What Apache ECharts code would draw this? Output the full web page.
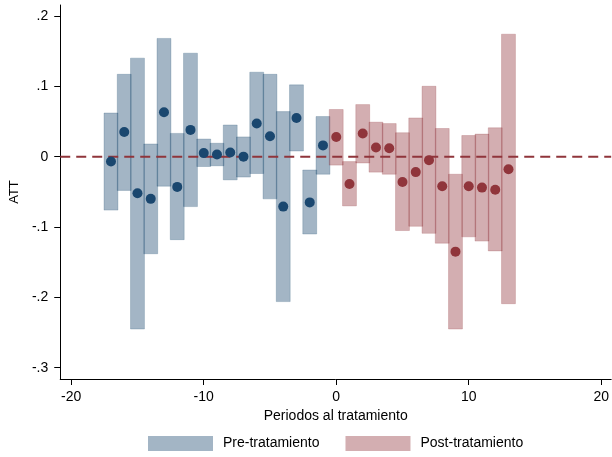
<!DOCTYPE html>
<html><head><meta charset="utf-8">
<script src="https://cdn.jsdelivr.net/npm/echarts@6/dist/echarts.min.js"></script>
<style>html,body{margin:0;padding:0;background:#fff}#c{width:612px;height:457px}</style>
</head><body><div id="c"></div>
<script>
const periodsPre = [-17,-16,-15,-14,-13,-12,-11,-10,-9,-8,-7,-6,-5,-4,-3,-2,-1];
const estPre = [-0.007,0.035,-0.052,-0.060,0.063,-0.043,0.038,0.005,0.003,0.006,0.000,0.047,0.029,-0.071,0.055,-0.065,0.016];
const loPre  = [-0.076,-0.048,-0.245,-0.138,-0.042,-0.118,-0.071,-0.014,-0.013,-0.033,-0.029,-0.024,-0.060,-0.206,0.008,-0.110,-0.025];
const hiPre  = [0.062,0.117,0.140,0.018,0.168,0.033,0.147,0.025,0.019,0.045,0.028,0.120,0.117,0.064,0.102,-0.019,0.057];

const periodsPost = [0,1,2,3,4,5,6,7,8,9,10,11,12,13];
const estPost = [0.028,-0.039,0.033,0.013,0.012,-0.036,-0.022,-0.005,-0.042,-0.135,-0.042,-0.044,-0.047,-0.018];
const loPost  = [-0.012,-0.070,-0.009,-0.022,-0.025,-0.105,-0.099,-0.109,-0.123,-0.245,-0.114,-0.120,-0.134,-0.209];
const hiPost  = [0.067,-0.007,0.074,0.049,0.047,0.034,0.055,0.100,0.040,-0.025,0.030,0.032,0.041,0.174];

const xTicks = [-20,-10,0,10,20];
const yTicks = [-0.3,-0.2,-0.1,0,0.1,0.2];

const navy = '#1A476F', maroon = '#90353B';
const preFill = 'rgba(26,71,111,0.4)', postFill = 'rgba(144,53,59,0.4)';
const preEdge = 'rgba(26,71,111,0.22)', postEdge = 'rgba(144,53,59,0.22)';
const FONT = 'Liberation Sans, Arial, sans-serif';

function fmtY(v){
  if (Math.abs(v) < 1e-9) return '0';
  let s = (Math.round(v*10)/10).toString();
  return s.replace('0.', '.');
}

function rectRenderer(fill, edge){
  return function(params, api){
    const x = api.value(0), lo = api.value(1), hi = api.value(2);
    const p1 = api.coord([x-0.525, hi]);
    const p2 = api.coord([x+0.525, lo]);
    return {type:'rect', shape:{x:p1[0], y:p1[1], width:p2[0]-p1[0], height:p2[1]-p1[1]},
      style:{fill:fill, stroke:edge, lineWidth:1}};
  };
}

const preBars = periodsPre.map((p,i)=>[p, loPre[i], hiPre[i]]);
const postBars = periodsPost.map((p,i)=>[p, loPost[i], hiPost[i]]);
const preDots = periodsPre.map((p,i)=>[p, estPre[i]]);
const postDots = periodsPost.map((p,i)=>[p, estPost[i]]);

const chart = echarts.init(document.getElementById('c'), null, {renderer:'canvas'});
chart.setOption({
  animation:false,
  textStyle:{fontFamily:FONT},
  grid:{left:59, right:0, top:5, bottom:78, containLabel:false},
  legend:{
    data:['Pre-tratamiento','Post-tratamiento'],
    top:431, left:143,
    icon:'rect', itemWidth:65, itemHeight:15, itemGap:26,
    itemStyle:{borderWidth:0},
    textStyle:{fontFamily:FONT, fontSize:14, color:'#000', padding:[0,0,0,5]}
  },
  xAxis:{
    type:'value', min:-20.83, max:20.75,
    name:'Periodos al tratamiento', nameLocation:'middle', nameGap:22,
    nameTextStyle:{fontFamily:FONT, fontSize:14, color:'#000'},
    axisLine:{show:true, onZero:false, lineStyle:{color:'#000', width:1}},
    axisTick:{show:true, length:6, customValues:xTicks, lineStyle:{color:'#000'}},
    axisLabel:{customValues:xTicks, fontFamily:FONT, fontSize:14, color:'#000', margin:11},
    splitLine:{show:false}
  },
  yAxis:{
    type:'value', min:-0.316, max:0.2155,
    name:'ATT', nameLocation:'middle', nameGap:37,
    nameTextStyle:{fontFamily:FONT, fontSize:13, color:'#000'},
    axisLine:{show:true, onZero:false, lineStyle:{color:'#000', width:1}},
    axisTick:{show:true, length:6, customValues:yTicks, lineStyle:{color:'#000'}},
    axisLabel:{customValues:yTicks, formatter:fmtY, fontFamily:FONT, fontSize:14, color:'#000', margin:12},
    splitLine:{show:false}
  },
  series:[
    {name:'Pre-tratamiento', type:'custom', renderItem:rectRenderer(preFill, preEdge), data:preBars,
     encode:{x:0, y:[1,2]}, itemStyle:{color:preFill}, z:1},
    {name:'Post-tratamiento', type:'custom', renderItem:rectRenderer(postFill, postEdge), data:postBars,
     encode:{x:0, y:[1,2]}, itemStyle:{color:postFill}, z:1},
    {name:'zero', type:'line', data:[[-20.83,0],[20.75,0]], symbol:'none', silent:true,
     lineStyle:{color:maroon, width:2, type:[10,6]}, z:3},
    {name:'preEst', type:'scatter', data:preDots, symbolSize:10, itemStyle:{color:navy, opacity:1}, z:4},
    {name:'postEst', type:'scatter', data:postDots, symbolSize:10, itemStyle:{color:maroon, opacity:1}, z:4}
  ]
});
</script></body></html>
